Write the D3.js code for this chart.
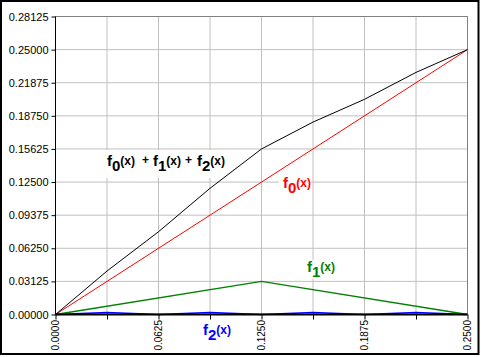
<!DOCTYPE html>
<html>
<head>
<meta charset="utf-8">
<script src="https://cdn.jsdelivr.net/npm/d3@7"></script>
<style>
html,body{margin:0;padding:0;background:#fff;}
svg{display:block;}
text{font-family:"Liberation Sans",Arial,sans-serif;}
</style>
</head>
<body>
<script>
// ---- data ----
const xGrid = [0, 0.03125, 0.0625, 0.09375, 0.125, 0.15625, 0.1875, 0.21875, 0.25];
const xTickLabels = ["0.0000", "0.0625", "0.1250", "0.1875", "0.2500"];
const xTickLabelValues = [0, 0.0625, 0.125, 0.1875, 0.25];
const yTickValues = [0, 0.03125, 0.0625, 0.09375, 0.125, 0.15625, 0.1875, 0.21875, 0.25, 0.28125];
const yTickLabels = ["0.00000", "0.03125", "0.06250", "0.09375", "0.12500", "0.15625", "0.18750", "0.21875", "0.25000", "0.28125"];

const f0X = [0, 0.25];
const f0Y = [0, 0.25];
const f1X = [0, 0.125, 0.25];
const f1Y = [0, 0.03125, 0];
const f2X = [0, 0.03125, 0.0625, 0.09375, 0.125, 0.15625, 0.1875, 0.21875, 0.25];
const f2Y = [0, 0.00195, 0, 0.00195, 0, 0.00195, 0, 0.00195, 0];
const sumX = [0, 0.03125, 0.0625, 0.09375, 0.125, 0.15625, 0.1875, 0.21875, 0.25];
const sumY = [0, 0.0410, 0.0781, 0.1191, 0.15625, 0.1816, 0.2031, 0.2285, 0.25];

const W = 481, H = 357;
const svg = d3.select("body").append("svg").attr("width", W).attr("height", H);
svg.append("rect").attr("width", W).attr("height", H).attr("fill", "#fff");

const x = d3.scaleLinear().domain([0, 0.25]).range([55.5, 467.5]);
const y = d3.scaleLinear().domain([0, 0.28125]).range([314.5, 16.5]);

// outer frame
svg.append("rect").attr("x", 1).attr("y", 1).attr("width", 477.5).attr("height", 353).attr("fill", "none").attr("stroke", "#000").attr("stroke-width", 2);

// gridlines
const grid = svg.append("g").attr("stroke", "#c0c0c0").attr("stroke-width", 1);
grid.selectAll("line.v").data(xGrid.slice(1)).enter().append("line")
  .attr("x1", d => x(d)).attr("x2", d => x(d)).attr("y1", y(0.28125)).attr("y2", y(0));
grid.selectAll("line.h").data(yTickValues.slice(1)).enter().append("line")
  .attr("x1", x(0)).attr("x2", x(0.25)).attr("y1", d => y(d)).attr("y2", d => y(d));

// plot frame (gray top/right)
svg.append("path").attr("d", `M${x(0)},${y(0.28125)}H${x(0.25)}V${y(0)}`)
  .attr("fill", "none").attr("stroke", "#808080").attr("stroke-width", 1);

// label background boxes
const boxes = [[103, 150, 123, 28], [279, 175, 32, 21], [303, 260, 34, 19]];
svg.selectAll("rect.box").data(boxes).enter().append("rect")
  .attr("x", d => d[0]).attr("y", d => d[1]).attr("width", d => d[2]).attr("height", d => d[3]).attr("fill", "#fff");

// lines
const line = (xs, ys) => d3.line().x((d, i) => x(xs[i])).y(d => y(d))(ys);
svg.append("path").attr("d", line(f2X, f2Y)).attr("fill", "none").attr("stroke", "#0000ff").attr("stroke-width", 1.6);
svg.append("path").attr("d", line(f1X, f1Y)).attr("fill", "none").attr("stroke", "#008000").attr("stroke-width", 1.3);
svg.append("path").attr("d", line(f0X, f0Y)).attr("fill", "none").attr("stroke", "#ff0000").attr("stroke-width", 1);
svg.append("path").attr("d", line(sumX, sumY)).attr("fill", "none").attr("stroke", "#000").attr("stroke-width", 1);

// axes
const xAxis = d3.axisBottom(x).tickValues(xGrid).tickSize(5).tickFormat("");
const gx = svg.append("g").attr("transform", `translate(0,${y(0)})`).call(xAxis);
gx.select(".domain").attr("stroke", "#000").attr("stroke-width", 2).attr("d", `M${x(0)},0H${x(0.25)}`);
gx.selectAll(".tick line").attr("stroke", "#000");
const yAxis = d3.axisLeft(y).tickValues(yTickValues).tickSize(4).tickFormat((d, i) => yTickLabels[i]);
const gy = svg.append("g").attr("transform", `translate(${x(0)},0)`).call(yAxis);
gy.select(".domain").attr("stroke", "#000").attr("d", `M0,${y(0)}V${y(0.28125)}`);
gy.selectAll(".tick line").attr("stroke", "#000");
gy.selectAll(".tick text").attr("x", -7).attr("font-size", "11px").attr("font-family", "Liberation Sans, Arial, sans-serif").attr("fill", "#000");

// x tick labels rotated
svg.selectAll("text.xl").data(xTickLabelValues).enter().append("text")
  .attr("transform", d => `translate(${x(d) + 3.5},320) rotate(-90)`)
  .attr("text-anchor", "end").attr("font-size", "10px").attr("fill", "#000")
  .text((d, i) => xTickLabels[i]);

// function labels
function fLabel(g, px, py, sub, color) {
  const t = g.append("text").attr("x", px).attr("y", py).attr("fill", color).attr("font-weight", "bold");
  t.append("tspan").attr("font-size", "15px").text("f");
  t.append("tspan").attr("font-size", "15px").attr("dy", 5).text(sub);
  t.append("tspan").attr("font-size", "12px").attr("dy", -6).text("(x)");
  return t;
}
const lab = svg.append("g");
fLabel(lab, 107, 166, "0", "#000");
lab.append("text").attr("x", 142).attr("y", 164).attr("font-weight", "bold").attr("font-size", "12px").text("+");
fLabel(lab, 153, 166, "1", "#000");
lab.append("text").attr("x", 185).attr("y", 164).attr("font-weight", "bold").attr("font-size", "12px").text("+");
fLabel(lab, 197, 166, "2", "#000");
fLabel(lab, 283, 188, "0", "#ff0000");
fLabel(lab, 307, 272, "1", "#008000");
fLabel(lab, 203, 335, "2", "#0000ff");
</script>
</body>
</html>
